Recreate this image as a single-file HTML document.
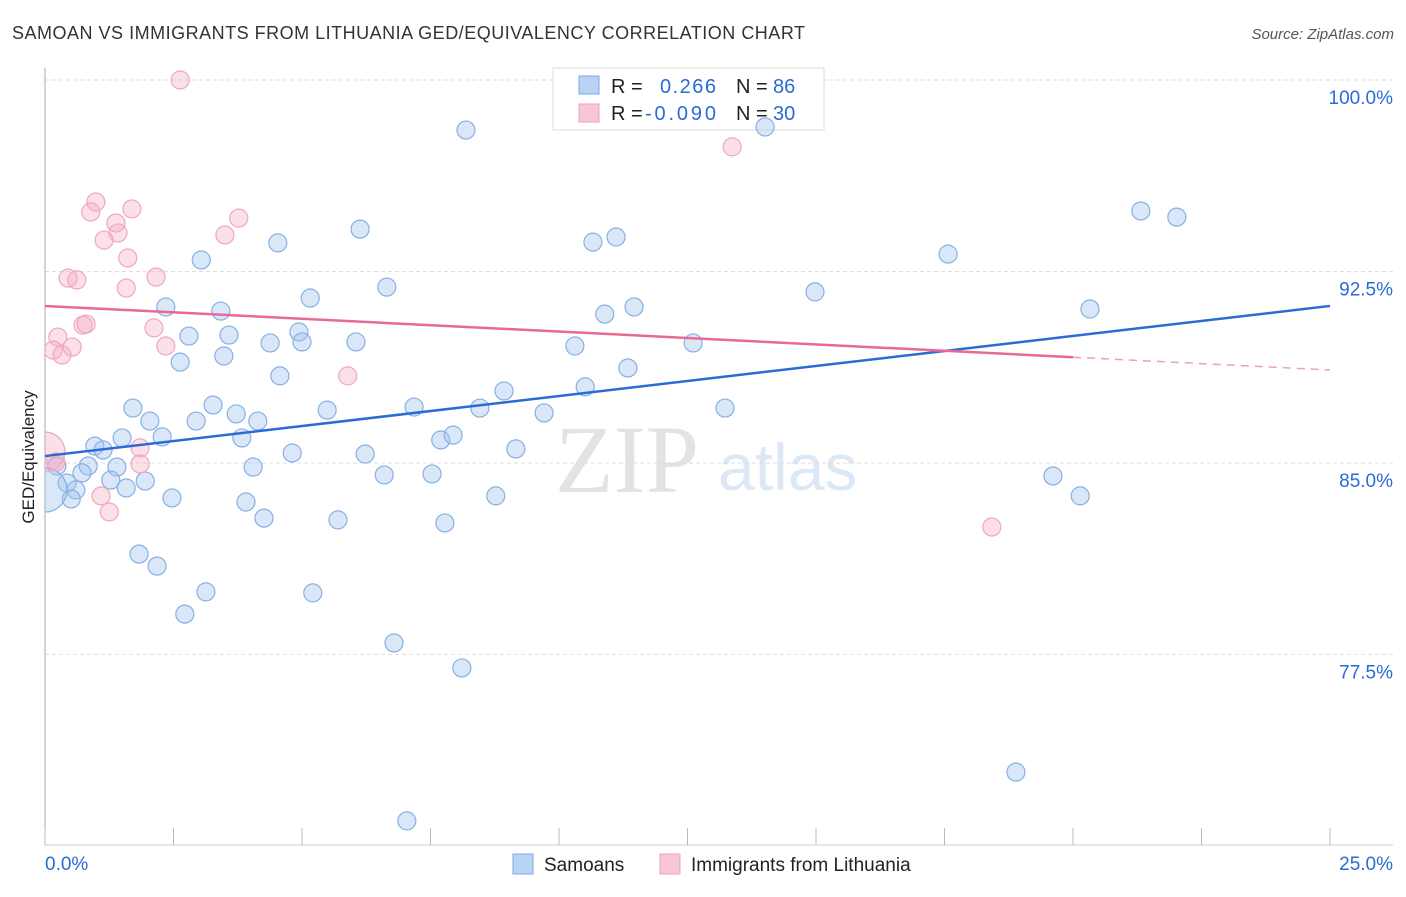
<!DOCTYPE html>
<html><head><meta charset="utf-8"><style>
body{margin:0;background:#fff;font-family:"Liberation Sans",sans-serif}
svg text{font-family:"Liberation Sans",sans-serif}
</style></head><body>
<svg width="1406" height="892" id="c">
<defs><clipPath id="plotclip"><rect x="45" y="60" width="1360" height="790"/></clipPath></defs>
<text x="12" y="39" font-size="18" fill="#333" textLength="793">SAMOAN VS IMMIGRANTS FROM LITHUANIA GED/EQUIVALENCY CORRELATION CHART</text>
<text x="1394" y="39" font-size="15" fill="#555" font-style="italic" text-anchor="end">Source: ZipAtlas.com</text>
<text x="34" y="457" font-size="17" fill="#222" text-anchor="middle" transform="rotate(-90 34 457)">GED/Equivalency</text>
<text x="555" y="492" font-size="96" fill="#e3e3e3" style="font-family:'Liberation Serif',serif">ZIP</text>
<text x="718" y="490" font-size="66" fill="#dce8f6">atlas</text>
<g id="grid"></g>
<g>
<rect x="553" y="68" width="271" height="62" fill="#fff" stroke="#ddd"/>
<rect x="579" y="76" width="20" height="18" fill="#b9d3f4" stroke="#7aa8e0"/>
<rect x="579" y="104" width="20" height="18" fill="#f8c6d6" stroke="#eea0ba"/>
<text x="611" y="93" font-size="20" fill="#222">R =</text><text x="660" y="93" font-size="20" fill="#2a6bd6" textLength="56">0.266</text>
<text x="736" y="93" font-size="20" fill="#222">N =</text><text x="773" y="93" font-size="20" fill="#2a6bd6">86</text>
<text x="611" y="120" font-size="20" fill="#222">R =</text><text x="645" y="120" font-size="20" fill="#2a6bd6" textLength="71">-0.090</text>
<text x="736" y="120" font-size="20" fill="#222">N =</text><text x="773" y="120" font-size="20" fill="#2a6bd6">30</text>
</g>
<g id="pts" clip-path="url(#plotclip)"></g><g id="lines"></g>
<g>
<rect x="513" y="854" width="20" height="20" fill="#b9d3f4" stroke="#7aa8e0"/>
<text x="544" y="871" font-size="19" fill="#222">Samoans</text>
<rect x="660" y="854" width="20" height="20" fill="#f8c6d6" stroke="#eea0ba"/>
<text x="691" y="871" font-size="19" fill="#222">Immigrants from Lithuania</text>
</g>
</svg>
<script>
const blueX=[8.19,14.01,21.32,22.02,6.13,4.53,10.66,11.11,3.04,17.57,6.65,14.98,5.16,2.35,3.42,11.46,10.89,20.33,2.80,3.58,4.94,4.38,5.00,6.05,10.31,12.61,2.63,3.48,11.34,4.57,10.51,8.93,1.71,3.27,5.49,7.18,8.46,3.72,9.71,13.23,2.04,2.94,4.14,2.28,1.50,3.83,7.70,7.94,0.97,1.13,4.81,6.23,9.16,0.23,0.84,1.40,4.05,0.72,6.60,7.53,19.61,0.43,1.95,1.28,1.58,0.60,0.51,2.47,3.91,8.77,20.14,4.26,5.70,7.78,1.83,2.18,3.13,5.21,2.72,6.79,8.11,18.89,7.04,0];
const blueY=[98.04,98.16,94.87,94.63,94.16,93.62,93.65,93.85,92.95,93.18,91.89,91.70,91.46,91.11,90.95,91.11,90.83,91.03,89.97,90.01,90.13,89.70,89.74,89.74,89.58,89.70,88.95,89.19,88.72,88.41,87.98,87.82,87.15,87.27,87.07,87.19,87.15,86.92,86.96,87.15,86.64,86.64,86.64,86.02,85.98,85.98,85.90,86.09,85.66,85.51,85.39,85.35,85.55,84.88,84.88,84.84,84.84,84.61,84.53,84.57,84.49,84.21,84.29,84.33,84.02,83.94,83.59,83.63,83.47,83.71,83.71,82.84,82.77,82.65,81.43,80.96,79.95,79.91,79.08,77.95,76.97,72.89,70.98,83.94];
const blueR=blueX.map((v,i)=>i===blueX.length-1?22:9);
const pinkX=[2.63,13.37,0.99,0.89,1.69,3.77,1.38,1.42,3.50,1.15,1.61,0.45,0.62,2.16,1.58,0.80,0.74,2.12,0.25,2.35,0.53,0.16,0.33,5.89,1.85,0.21,1.85,1.09,1.25,18.42,0];
const pinkY=[100,97.38,95.22,94.83,94.95,94.59,94.40,94.01,93.93,93.73,93.03,92.24,92.17,92.28,91.85,90.44,90.40,90.29,89.93,89.58,89.54,89.42,89.23,88.41,85.59,85.04,84.96,83.71,83.08,82.49,85.43];
const pinkR=pinkX.map((v,i)=>i===pinkX.length-1?20:9);
const yTicks=[100,92.5,85,77.5];
const yTickLabels=["100.0%","92.5%","85.0%","77.5%"];
const xTicks=[0,2.5,5,7.5,10,12.5,15,17.5,20,22.5,25];
const blueTrend=[85.27,91.15];
const pinkTrend=[91.15,88.64];
const pinkSolidEnd=20;
const X=v=>45+v*51.4, Y=v=>80+(100-v)*25.53;
const NS="http://www.w3.org/2000/svg";
function mk(t,a,p){const e=document.createElementNS(NS,t);for(const k in a)e.setAttribute(k,a[k]);p.appendChild(e);return e;}
const g=document.getElementById('grid');
yTicks.forEach((v,i)=>{
 const l=mk('line',{x1:45,x2:1393,y1:Y(v),y2:Y(v),stroke:'#ddd','stroke-dasharray':'4 3'},g);
 
 
 const t=mk('text',{x:1393,y:Y(v)+24,'font-size':19,fill:'#2a6bd6','text-anchor':'end'},g);t.textContent=yTickLabels[i];
 
 
});
const ax=mk('line',{x1:45,x2:45,y1:68,y2:845,stroke:'#aaa'},g);


const bx=mk('line',{x1:45,x2:1393,y1:845,y2:845,stroke:'#ccc'},g);


xTicks.forEach(v=>{const t=mk('line',{x1:X(v),x2:X(v),y1:828,y2:845,stroke:'#bbb'},g);
 
 });
const t0=mk('text',{x:45,y:870,'font-size':19,fill:'#2a6bd6'},g);t0.textContent='0.0%';


const t1=mk('text',{x:1393,y:870,'font-size':19,fill:'#2a6bd6','text-anchor':'end'},g);t1.textContent='25.0%';


const P=document.getElementById('pts');
blueX.forEach((v,i)=>{const c=mk('circle',{cx:X(v),cy:Y(blueY[i]),r:blueR[i],fill:'rgba(160,196,240,0.4)',stroke:'#86b0e4','stroke-width':1.2},P);
 
 });
pinkX.forEach((v,i)=>{const c=mk('circle',{cx:X(v),cy:Y(pinkY[i]),r:pinkR[i],fill:'rgba(245,170,195,0.36)',stroke:'#efa7bf','stroke-width':1.2},P);
 
 });
const L=document.getElementById('lines');
const bl=mk('line',{x1:X(0),y1:Y(blueTrend[0]),x2:X(25),y2:Y(blueTrend[1]),stroke:'#2a6bd6','stroke-width':2.5},L);


const pm=pinkTrend[0]+(pinkTrend[1]-pinkTrend[0])*pinkSolidEnd/25;
const pl=mk('line',{x1:X(0),y1:Y(pinkTrend[0]),x2:X(pinkSolidEnd),y2:Y(pm),stroke:'#e86a93','stroke-width':2.5},L);


const pd=mk('line',{x1:X(pinkSolidEnd),y1:Y(pm),x2:X(25),y2:Y(pinkTrend[1]),stroke:'#eea0ba','stroke-width':1.5,'stroke-dasharray':'8 6'},L);


</script>
</body></html>
